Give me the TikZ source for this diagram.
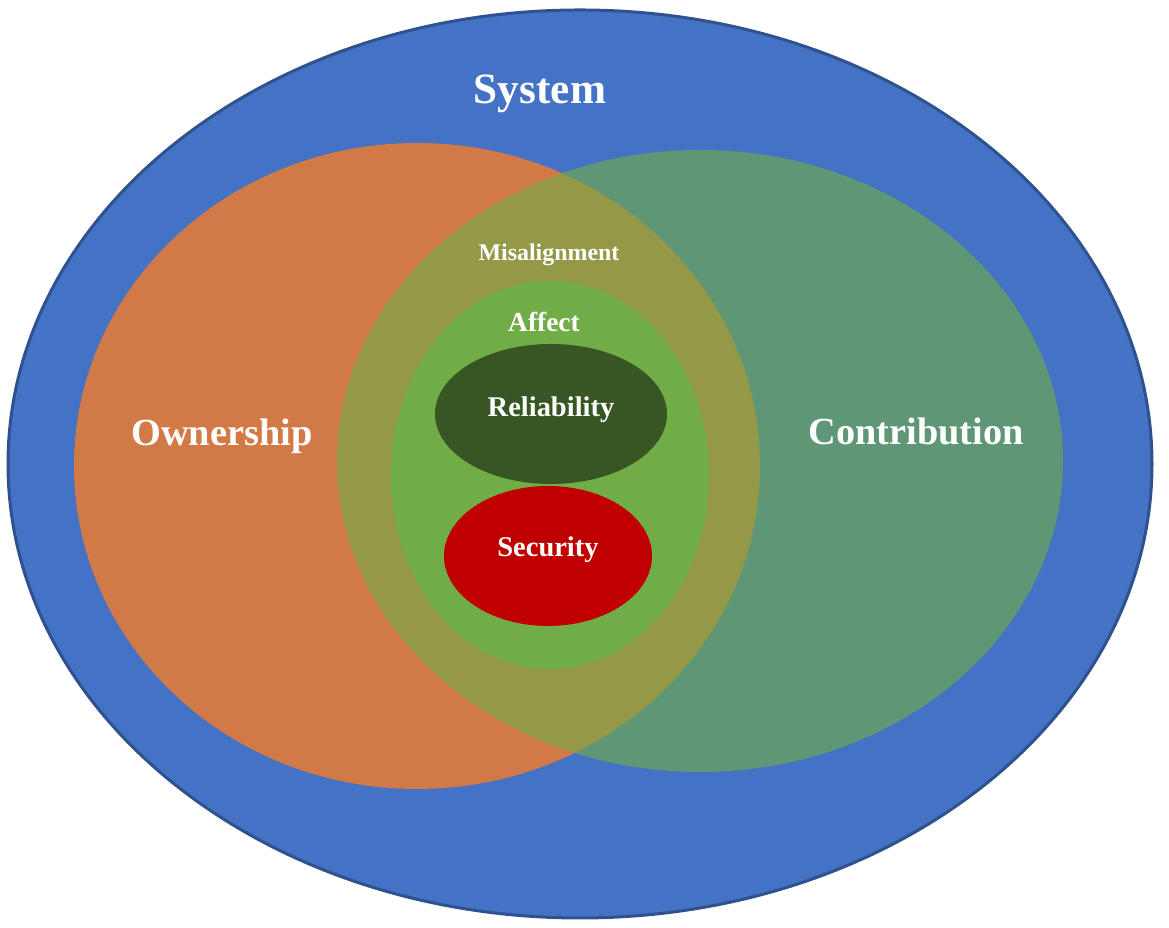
\documentclass[tikz,border=0pt]{standalone}
\usepackage{fontspec}
\setmainfont{Liberation Serif}
\usepackage{tikz}
\definecolor{sysblue}{RGB}{68,114,196}
\definecolor{sysline}{RGB}{47,82,143}
\definecolor{ownorange}{RGB}{209,122,71}
\definecolor{congreen}{RGB}{112,173,71}
\definecolor{reldark}{RGB}{55,86,35}
\definecolor{secred}{RGB}{192,0,0}
\tikzset{
	lbl/.style={text=white, font=\bfseries, inner sep=0pt},
}

\begin{document}
\begin{tikzpicture}[x=0.01cm, y=0.01cm]
			%%%%% START %%%%%
			\useasboundingbox (0, 0) rectangle (1169, 928);
			
			\draw[line width=0.3mm, color=sysline, fill=sysblue] (580, 464) ellipse (572 and 454);
			
			\fill[color=ownorange] (417, 462) ellipse (343 and 323);
			\fill[color=congreen, fill opacity=0.62] (700, 467) ellipse (363 and 311);
			
			\fill[color=congreen] (550, 453) ellipse (159 and 194);
			\fill[color=reldark] (551, 514) ellipse (116 and 70);
			\fill[color=secred] (548, 372) ellipse (104 and 70);
			
			\node[lbl, font=\fontsize{12.3}{14}\selectfont\bfseries] (system) at (540, 834) {System};
			\node[lbl, font=\fontsize{10.9}{13}\selectfont\bfseries] (ownership) at (222, 492) {Ownership};
			\node[lbl, font=\fontsize{10.9}{13}\selectfont\bfseries] (contribution) at (916, 497) {Contribution};
			\node[lbl, font=\fontsize{6.8}{8}\selectfont\bfseries] (misalignment) at (549, 673) {Misalignment};
			\node[lbl, font=\fontsize{7.8}{9}\selectfont\bfseries] (affect) at (544, 606) {Affect};
			\node[lbl, font=\fontsize{8.1}{10}\selectfont\bfseries] (reliability) at (551, 518) {Reliability};
			\node[lbl, font=\fontsize{8.1}{10}\selectfont\bfseries] (security) at (548, 378) {Security};
			
			%%%%% END %%%%%
\end{tikzpicture}
\end{document}
